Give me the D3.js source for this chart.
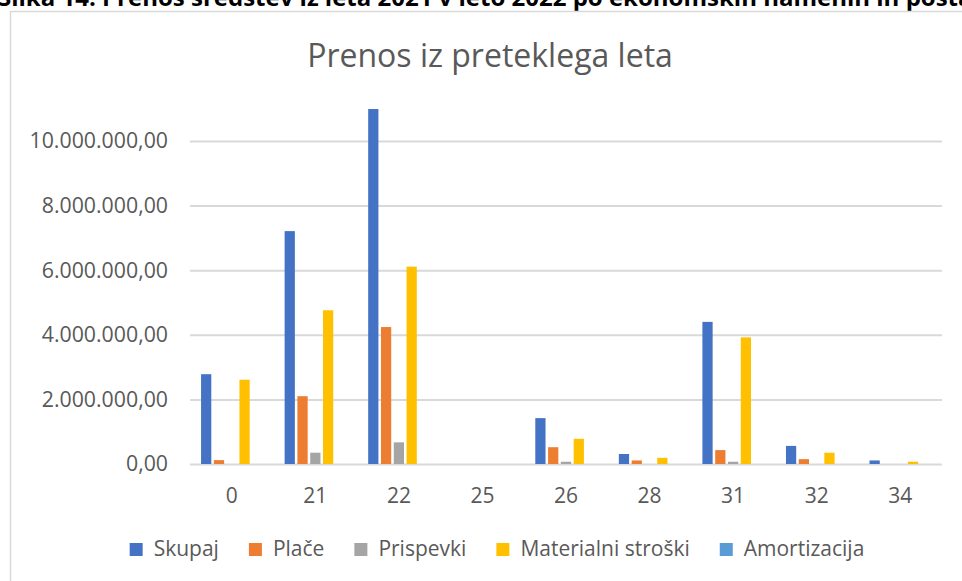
<!doctype html>
<html>
<head>
<meta charset="utf-8">
<script src="https://d3js.org/d3.v7.min.js"></script>
<style>
  body { margin: 0; background: #fff; }
  svg { display: block; }
  text { font-family: "Open Sans", sans-serif; fill: #595959; }
</style>
</head>
<body>
<svg width="962" height="581"></svg>
<script>
// chart data
var categories = ["0", "21", "22", "25", "26", "28", "31", "32", "34"];
var seriesNames = ["Skupaj", "Plače", "Prispevki", "Materialni stroški", "Amortizacija"];
var seriesColors = ["#4472C4", "#ED7D31", "#A5A5A5", "#FFC000", "#5B9BD5"];
var skupaj = [2780000, 7210000, 10990000, 0, 1420000, 310000, 4400000, 560000, 110000];
var place = [120000, 2100000, 4240000, 0, 520000, 110000, 430000, 150000, 0];
var prispevki = [0, 350000, 670000, 0, 70000, 0, 70000, 0, 0];
var materialni = [2610000, 4760000, 6110000, 0, 780000, 190000, 3920000, 350000, 70000];
var amortizacija = [0, 0, 0, 0, 0, 0, 0, 0, 0];
var yTicks = [0, 2000000, 4000000, 6000000, 8000000, 10000000];

var seriesValues = [skupaj, place, prispevki, materialni, amortizacija];

var svg = d3.select("svg");

// caption of the document page, cut off at the top as in the picture
svg.append("text")
   .attr("x", -2)
   .attr("y", 6)
   .attr("font-size", "24px")
   .attr("font-weight", "bold")
   .style("fill", "#000")
   .text("Slika 14: Prenos sredstev iz leta 2021 v leto 2022 po ekonomskih namenih in postavkah");

// chart area border (only left and top edges are inside the picture)
svg.append("path")
   .attr("d", "M10.5,581V11.5H962")
   .attr("fill", "none")
   .attr("stroke", "#d9d9d9")
   .attr("stroke-width", 1.5);

var left = 190, right = 942, bottom = 464;

var x = d3.scaleBand().domain(categories).range([left, right]);
var y = d3.scaleLinear().domain([0, 11000000]).range([bottom, bottom - 11 * 32.3]);

var groupW = x.bandwidth() / 1.306;
var xs = d3.scaleBand().domain(seriesNames).range([0, groupW]).paddingInner(0.2).paddingOuter(0.1);

var loc = d3.formatLocale({decimal: ",", thousands: ".", grouping: [3], currency: ["", ""]});
var fmt = loc.format(",.2f");

// y axis with gridlines
var yAxis = svg.append("g")
   .attr("transform", "translate(" + left + ",0)")
   .call(d3.axisLeft(y).tickValues(yTicks).tickFormat(fmt)
      .tickSizeInner(-(right - left)).tickSizeOuter(0).tickPadding(22));
yAxis.select(".domain").remove();
yAxis.selectAll("line").attr("stroke", "#d9d9d9").attr("stroke-width", 2);
yAxis.selectAll("text").attr("font-size", "21.3px").attr("font-family", null).style("fill", "#595959");

// x axis labels
var xAxis = svg.append("g")
   .attr("transform", "translate(0," + bottom + ")")
   .call(d3.axisBottom(x).tickSize(0).tickPadding(24));
xAxis.select(".domain").remove();
xAxis.selectAll("text").attr("font-size", "21px").attr("font-family", null).style("fill", "#595959");

// bars
var groups = svg.append("g").selectAll("g")
   .data(categories)
   .enter().append("g")
   .attr("transform", function(d) { return "translate(" + (x(d) + (x.bandwidth() - groupW) / 2) + ",0)"; });

groups.selectAll("rect")
   .data(function(d, i) {
       return seriesNames.map(function(s, j) { return {s: s, j: j, v: seriesValues[j][i]}; });
   })
   .enter().append("rect")
   .attr("x", function(d) { return xs(d.s); })
   .attr("y", function(d) { return y(d.v); })
   .attr("width", xs.bandwidth())
   .attr("height", function(d) { return bottom - y(d.v); })
   .attr("fill", function(d) { return seriesColors[d.j]; });

// title
svg.append("text")
   .attr("x", 490)
   .attr("y", 67)
   .attr("text-anchor", "middle")
   .attr("font-size", "32px")
   .text("Prenos iz preteklega leta");

// legend
var legend = svg.append("g");
var lx = 0;
seriesNames.forEach(function(name, i) {
    var item = legend.append("g").attr("transform", "translate(" + lx + ",0)");
    item.append("rect")
        .attr("x", 0).attr("y", 543)
        .attr("width", 13).attr("height", 13)
        .attr("fill", seriesColors[i]);
    var t = item.append("text")
        .attr("x", 24).attr("y", 556)
        .attr("font-size", "21px")
        .text(name);
    lx += 24 + t.node().getComputedTextLength() + 30;
});
var legendW = lx - 30;
legend.attr("transform", "translate(" + (497 - legendW / 2) + ",0)");
</script>
</body>
</html>
